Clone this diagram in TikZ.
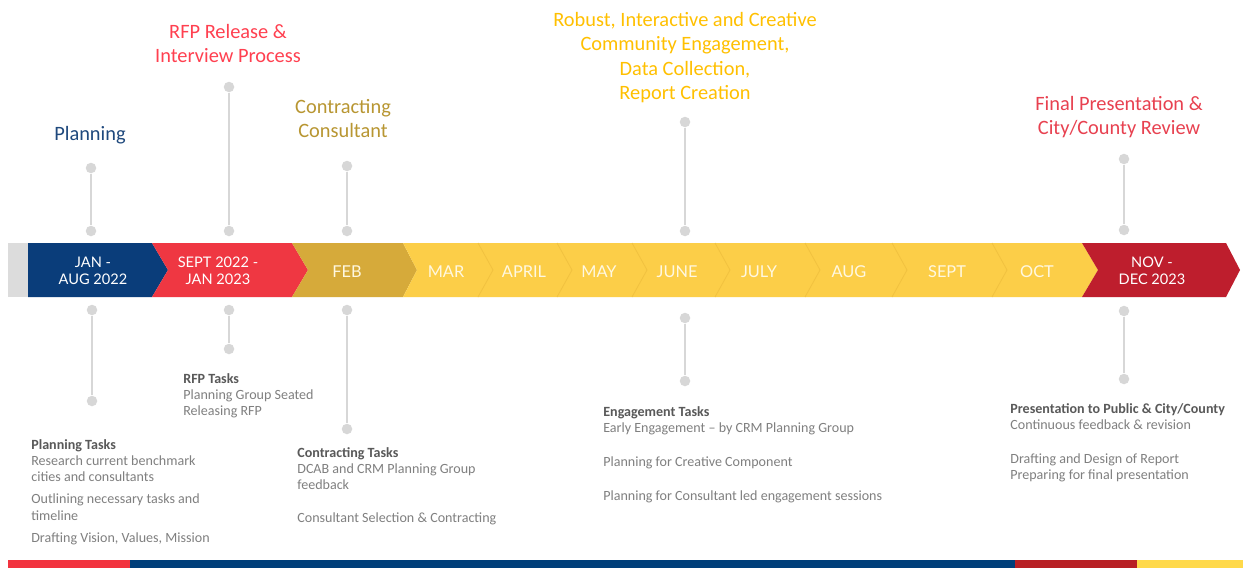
\documentclass[tikz,border=0pt]{standalone}
\usepackage{fontspec}
\setmainfont{Carlito}
\newfontfamily\latofont{Lato}
\definecolor{graystart}{RGB}{220,220,220}
\definecolor{barblue}{RGB}{10,61,122}
\definecolor{barred}{RGB}{239,55,66}
\definecolor{bargold}{RGB}{214,170,58}
\definecolor{baryellow}{RGB}{252,206,72}
\definecolor{chevyellow}{RGB}{242,194,64}
\definecolor{bardkred}{RGB}{190,30,45}
\definecolor{hdblue}{RGB}{31,73,125}
\definecolor{hdred}{RGB}{255,64,80}
\definecolor{hdgold}{RGB}{184,150,50}
\definecolor{hdyellow}{RGB}{255,192,0}
\definecolor{hdfinal}{RGB}{232,65,80}
\definecolor{tasktitle}{RGB}{89,89,89}
\definecolor{taskbody}{RGB}{128,128,128}
\definecolor{pingray}{RGB}{215,215,215}
\definecolor{monthtext}{RGB}{255,248,225}
\definecolor{stripred}{RGB}{242,51,63}
\definecolor{stripblue}{RGB}{0,63,122}
\definecolor{stripdkred}{RGB}{184,32,37}
\definecolor{stripyellow}{RGB}{255,217,74}
\newcommand{\ttl}[1]{\textbf{\textcolor{tasktitle}{#1}}}

\begin{document}
\begin{tikzpicture}[x=0.02cm,y=-0.02cm,
  pindot/.style={circle,fill=pingray,inner sep=0pt,minimum size=0.21cm},
  pinline/.style={draw=pingray,line width=1.4pt},
  headtext/.style={anchor=north,align=center,inner sep=0pt,font=\fontsize{11.6}{13.9}\selectfont},
  tasktext/.style={anchor=north west,align=left,inner sep=0pt,text=taskbody,font=\fontsize{8}{9.3}\selectfont},
  barlabel/.style={align=center,inner sep=0pt,text=white,font=\latofont\fontsize{8.3}{9.6}\selectfont},
  monthlabel/.style={inner sep=0pt,text=monthtext,font=\latofont\fontsize{9.3}{10}\selectfont},
  chevline/.style={draw=chevyellow,line width=0.5pt}]
  \useasboundingbox[fill=white] (0,0) rectangle (1243,568);

  \fill[graystart] (8,243) rectangle (28,297);
  \fill[barblue]   (28,243) -- (152,243) -- (168,270) -- (152,297) -- (28,297) -- cycle;
  \fill[barred]    (152,243) -- (292,243) -- (308,270) -- (292,297) -- (152,297) -- (168,270) -- cycle;
  \fill[bargold]   (292,243) -- (403,243) -- (417,270) -- (403,297) -- (292,297) -- (308,270) -- cycle;
  \fill[baryellow] (403,243) -- (1082,243) -- (1098,270) -- (1082,297) -- (403,297) -- (417,270) -- cycle;
  \foreach \x in {478,557,632,715,805,892,992}
    \draw[chevline] (\x,243) -- (\x+15,270) -- (\x,297);
  \fill[bardkred]  (1082,243) -- (1226,243) -- (1240,270) -- (1226,297) -- (1082,297) -- (1098,270) -- cycle;

  \node[barlabel] (janaug) at (93,271) {JAN -\\AUG 2022};
  \node[barlabel] (septjan) at (218,271) {SEPT 2022 -\\JAN 2023};
  \node[monthlabel] (feb) at (347,272) {FEB};
  \node[monthlabel] (mar) at (446,272) {MAR};
  \node[monthlabel] (apr) at (524,272) {APRIL};
  \node[monthlabel] (may) at (599,272) {MAY};
  \node[monthlabel] (jun) at (677,272) {JUNE};
  \node[monthlabel] (jul) at (759,272) {JULY};
  \node[monthlabel] (aug) at (849,272) {AUG};
  \node[monthlabel] (sep) at (947,272) {SEPT};
  \node[monthlabel] (oct) at (1037,272) {OCT};
  \node[barlabel] (novdec) at (1152,271) {NOV -\\DEC 2023};

  \node[pindot] (plantop) at (91,168) {};
  \node[pindot] (planup) at (91,231) {};
  \node[pindot] (rfptop) at (229,87) {};
  \node[pindot] (rfpup) at (229,231) {};
  \node[pindot] (contop) at (347,166) {};
  \node[pindot] (conup) at (347,231) {};
  \node[pindot] (engtop) at (685,122) {};
  \node[pindot] (engup) at (685,231) {};
  \node[pindot] (fintop) at (1124,159) {};
  \node[pindot] (finup) at (1124,230) {};
  \draw[pinline] (plantop) -- (planup);
  \draw[pinline] (rfptop) -- (rfpup);
  \draw[pinline] (contop) -- (conup);
  \draw[pinline] (engtop) -- (engup);
  \draw[pinline] (fintop) -- (finup);

  \node[pindot] (plandown) at (92,310) {};
  \node[pindot] (planbot) at (92,401) {};
  \node[pindot] (rfpdown) at (229,310) {};
  \node[pindot] (rfpbot) at (229,349) {};
  \node[pindot] (condown) at (347,310) {};
  \node[pindot] (conbot) at (347,429) {};
  \node[pindot] (engdown) at (685,318) {};
  \node[pindot] (engbot) at (685,381) {};
  \node[pindot] (findown) at (1124,311) {};
  \node[pindot] (finbot) at (1124,379) {};
  \draw[pinline] (plandown) -- (planbot);
  \draw[pinline] (rfpdown) -- (rfpbot);
  \draw[pinline] (condown) -- (conbot);
  \draw[pinline] (engdown) -- (engbot);
  \draw[pinline] (findown) -- (finbot);

  \node[headtext,text=hdblue] (hplan) at (90,126) {Planning};
  \node[headtext,text=hdred] (hrfp) at (228,24) {RFP Release \&\\Interview Process};
  \node[headtext,text=hdgold] (hcon) at (343,99) {Contracting\\Consultant};
  \node[headtext,text=hdyellow] (heng) at (685,12) {Robust, Interactive and Creative\\Community Engagement,\\Data Collection,\\Report Creation};
  \node[headtext,text=hdfinal] (hfin) at (1119,96) {Final Presentation \&\\City/County Review};

  \node[tasktext] (tplan) at (31,439) {\ttl{Planning Tasks}\\Research current benchmark\\cities and consultants\\[3.2pt]Outlining necessary tasks and\\timeline\\[3.2pt]Drafting Vision, Values, Mission};
  \node[tasktext] (trfp) at (183,373) {\ttl{RFP Tasks}\\Planning Group Seated\\Releasing RFP};
  \node[tasktext] (tcon) at (297,447) {\ttl{Contracting Tasks}\\DCAB and CRM Planning Group\\feedback\\[9.5pt]Consultant Selection \& Contracting};
  \node[tasktext] (teng) at (603,406) {\ttl{Engagement Tasks}\\Early Engagement -- by CRM Planning Group\\[10pt]Planning for Creative Component\\[10pt]Planning for Consultant led engagement sessions};
  \node[tasktext] (tfin) at (1010,403) {\ttl{Presentation to Public \& City/County}\\Continuous feedback \& revision\\[10pt]Drafting and Design of Report\\Preparing for final presentation};

  \fill[stripred]    (8,560) rectangle (130,568);
  \fill[stripblue]   (130,560) rectangle (1015,568);
  \fill[stripdkred]  (1015,560) rectangle (1137,568);
  \fill[stripyellow] (1137,560) rectangle (1243,568);
\end{tikzpicture}
\end{document}
